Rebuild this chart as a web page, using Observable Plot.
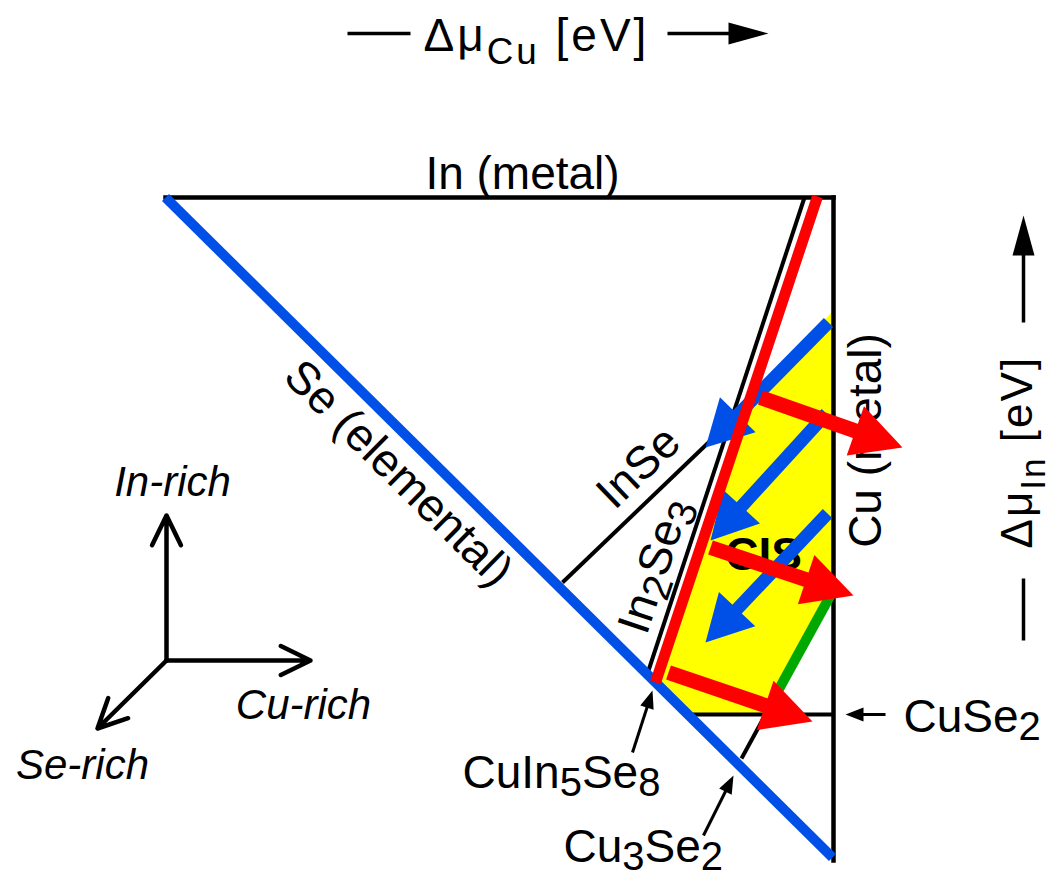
<!DOCTYPE html>
<html><head><meta charset="utf-8">
<script src="https://cdn.jsdelivr.net/npm/d3@7"></script>
<script src="https://cdn.jsdelivr.net/npm/@observablehq/plot@0.6"></script>
<style>body{margin:0;background:#fff} svg{display:block} text{white-space:pre}</style>
</head><body><div id="chart"></div>
<script>
// Chemical-potential plane (Δμ_Cu horizontal, Δμ_In vertical), schematic units
const xDomain = [-8.33, 2.26];
const yDomain = [-6.85, 1.97];

const frameLines = [ // In (metal) and Cu (metal) limits
  {phase: "In (metal)", x1: -6.68, y1: 0, x2: 0, y2: 0},
  {phase: "Cu (metal)", x1: 0, y1: 0, x2: 0, y2: -6.63}
];
const phaseLines = [
  {phase: "In2Se3", x1: -0.29, y1: 0, x2: -1.85, y2: -4.73},
  {phase: "InSe", x1: -2.71, y1: -3.85, x2: -1.01, y2: -2.22},
  {phase: "CuSe2", x1: -1.46, y1: -5.17, x2: 0, y2: -5.17},
  {phase: "Cu3Se2", x1: -0.92, y1: -5.61, x2: -0.68, y2: -5.17}
];
const seLine = [{phase: "Se (elemental)", x1: -6.68, y1: 0, x2: -0.01, y2: -6.60}];
const inRichEdge = [{x1: -0.16, y1: 0.01, x2: -1.78, y2: -4.85}];
const cuRichEdge = [{x1: -0.02, y1: -3.96, x2: -0.68, y2: -5.16}];
const cisRegion = [
  {x: 0, y: -1.13}, {x: -0.84, y: -2.03}, {x: -1.78, y: -4.83},
  {x: -1.45, y: -5.16}, {x: -0.68, y: -5.16}, {x: 0, y: -3.96}
];
const blueArrows = [
  {x1: -0.05, y1: -1.25, x2: -1.28, y2: -2.50},
  {x1: -0.07, y1: -2.16, x2: -1.23, y2: -3.43},
  {x1: -0.06, y1: -3.16, x2: -1.28, y2: -4.45}
];
const redArrows = [
  {x1: -0.73, y1: -2.00, x2: 0.69, y2: -2.50},
  {x1: -1.23, y1: -3.50, x2: 0.20, y2: -3.98},
  {x1: -1.65, y1: -4.75, x2: -0.21, y2: -5.24}
];
const pointerArrows = [
  {label: "CuIn5Se8", x1: -2.01, y1: -5.55, x2: -1.81, y2: -4.93},
  {label: "Cu3Se2", x1: -1.30, y1: -6.38, x2: -1.00, y2: -5.78},
  {label: "CuSe2", x1: 0.52, y1: -5.17, x2: 0.12, y2: -5.17}
];
const compassArrows = [
  {dir: "In-rich", x1: -6.67, y1: -4.63, x2: -6.67, y2: -3.18},
  {dir: "Cu-rich", x1: -6.67, y1: -4.63, x2: -5.23, y2: -4.63},
  {dir: "Se-rich", x1: -6.67, y1: -4.63, x2: -7.36, y2: -5.31}
];
const axisDashes = [
  {x1: -4.86, y1: 1.64, x2: -4.23, y2: 1.64},
  {x1: 1.90, y1: -4.43, x2: 1.90, y2: -3.81}
];
const axisArrows = [
  {x1: -1.66, y1: 1.64, x2: -0.65, y2: 1.64},
  {x1: 1.90, y1: -1.25, x2: 1.90, y2: -0.18}
];
const phaseLabels = [
  {text: "In (metal)", x: -3.11, y: 0.09, rotate: 0, anchor: "middle", line: "bottom"},
  {text: "Se (elemental)", x: -4.35, y: -2.76, rotate: 44.7, anchor: "middle", line: "middle"},
  {text: "InSe", x: -1.95, y: -2.70, rotate: -43.8, anchor: "middle", line: "middle"},
  {text: "In_2Se_3", x: -1.79, y: -3.68, rotate: -71.5, anchor: "middle", line: "middle"},
  {text: "Cu (metal)", x: 0.33, y: -2.43, rotate: -90, anchor: "middle", line: "middle"},
  {text: "CuIn_5Se_8", x: -3.71, y: -5.90, rotate: 0, anchor: "start", line: "bottom"},
  {text: "Cu_3Se_2", x: -2.70, y: -6.64, rotate: 0, anchor: "start", line: "bottom"},
  {text: "CuSe_2", x: 0.70, y: -5.34, rotate: 0, anchor: "start", line: "bottom"}
];
const compassLabels = [
  {text: "In-rich", x: -6.61, y: -2.98},
  {text: "Cu-rich", x: -5.30, y: -5.21},
  {text: "Se-rich", x: -7.51, y: -5.81}
];
const regionLabel = [{text: "CIS", x: -0.70, y: -3.58}];
const axisTitles = [
  {text: "Δμ_{Cu} [eV]", x: -4.10, y: 1.47, rotate: 0, size: 46, spacing: 3},
  {text: "Δμ_{In} [eV]", x: 1.98, y: -3.51, rotate: -90, size: 44, spacing: 2}
];

const W = 1059, H = 882;
const unitPerPx = (xDomain[1] - xDomain[0]) / W;

// filled-triangle arrows: shaft as link, head as closed polygon
function filledArrows(arr, headLen, halfWidth) {
  const L = headLen * unitPerPx, hw = halfWidth * unitPerPx;
  const shafts = [], heads = [];
  arr.forEach((a, i) => {
    const dx = a.x2 - a.x1, dy = a.y2 - a.y1, len = Math.hypot(dx, dy);
    const ux = dx / len, uy = dy / len, nx = -uy, ny = ux;
    const bx = a.x2 - ux * L, by = a.y2 - uy * L;
    shafts.push({x1: a.x1, y1: a.y1, x2: bx + ux * L * 0.3, y2: by + uy * L * 0.3});
    heads.push({id: i, x: a.x2, y: a.y2}, {id: i, x: bx + nx * hw, y: by + ny * hw}, {id: i, x: bx - nx * hw, y: by - ny * hw});
  });
  return {shafts, heads};
}
function arrowMarks(arr, color, headLen, halfWidth, sw) {
  const {shafts, heads} = filledArrows(arr, headLen, halfWidth);
  return [
    Plot.link(shafts, {x1: "x1", y1: "y1", x2: "x2", y2: "y2", stroke: color, strokeWidth: sw}),
    Plot.line(heads, {x: "x", y: "y", z: "id", fill: color, stroke: "none", curve: "linear-closed"})
  ];
}

const font = "'Liberation Sans', Arial, Helvetica, sans-serif";
const blue = "#0050e8", red = "#ff0000", green = "#00a800", yellow = "#ffff00";

const chart = Plot.plot({
  width: W, height: H, margin: 0,
  x: {domain: xDomain, axis: null},
  y: {domain: yDomain, axis: null},
  style: {fontFamily: font, background: "white", overflow: "visible"},
  marks: [
    Plot.line(cisRegion, {x: "x", y: "y", fill: yellow, stroke: "none", curve: "linear-closed"}),
    Plot.link(frameLines, {x1: "x1", y1: "y1", x2: "x2", y2: "y2", stroke: "black", strokeWidth: 4.5, strokeLinecap: "square"}),
    Plot.link(phaseLines, {x1: "x1", y1: "y1", x2: "x2", y2: "y2", stroke: "black", strokeWidth: 4}),
    ...phaseLabels.map(d => Plot.text([d], {x: "x", y: "y", text: "text", rotate: "rotate", textAnchor: d.anchor, lineAnchor: d.line, fontSize: 46, fill: "black"})),
    Plot.text(regionLabel, {x: "x", y: "y", text: "text", fontSize: 46, fontWeight: "bold", fill: "black", lineAnchor: "middle"}),
    Plot.link(cuRichEdge, {x1: "x1", y1: "y1", x2: "x2", y2: "y2", stroke: green, strokeWidth: 10}),
    Plot.link(seLine, {x1: "x1", y1: "y1", x2: "x2", y2: "y2", stroke: blue, strokeWidth: 10}),
    ...arrowMarks(blueArrows, blue, 46, 25, 13),
    Plot.link(inRichEdge, {x1: "x1", y1: "y1", x2: "x2", y2: "y2", stroke: red, strokeWidth: 11}),
    ...arrowMarks(redArrows, red, 50, 26, 15),
    ...arrowMarks(pointerArrows, "black", 18, 7, 3),
    ...arrowMarks(axisArrows, "black", 40, 11, 3.5),
    Plot.link(axisDashes, {x1: "x1", y1: "y1", x2: "x2", y2: "y2", stroke: "black", strokeWidth: 3.5}),
    Plot.arrow(compassArrows, {x1: "x1", y1: "y1", x2: "x2", y2: "y2", stroke: "black", strokeWidth: 4.5, headLength: 11, headAngle: 52}),
    Plot.text(compassLabels, {x: "x", y: "y", text: "text", fontSize: 42, fontStyle: "italic", fill: "black", lineAnchor: "bottom"}),
    ...axisTitles.map(d => Plot.text([d], {x: "x", y: "y", text: "text", rotate: "rotate", fontSize: d.size, fill: "black", textAnchor: "start", lineAnchor: "bottom"}))
  ]
});
document.getElementById("chart").appendChild(chart);

// render "_x" / "_{xy}" as subscripts
const subSpec = new Map(axisTitles.map(d => [d.text, {scale: 0.8, shift: 0.3, spacing: d.spacing}]));
d3.select(chart).selectAll("text").each(function () {
  const raw = this.textContent;
  if (!raw.includes("_")) return;
  const spec = subSpec.get(raw) || {scale: 0.87, shift: 0.19, spacing: 0};
  if (spec.spacing) this.setAttribute("letter-spacing", spec.spacing);
  const fs = parseFloat(getComputedStyle(this).fontSize) || 46;
  const parts = [];
  let last = 0;
  raw.replace(/_\{([^}]*)\}|_(\S)/g, (m, g1, g2, idx) => {
    if (idx > last) parts.push({t: raw.slice(last, idx), sub: false});
    parts.push({t: g1 ?? g2, sub: true});
    last = idx + m.length;
    return m;
  });
  if (last < raw.length) parts.push({t: raw.slice(last), sub: false});
  this.textContent = "";
  let prevSub = false;
  for (const p of parts) {
    const ts = document.createElementNS("http://www.w3.org/2000/svg", "tspan");
    ts.textContent = p.t;
    if (p.sub) {
      ts.setAttribute("font-size", fs * spec.scale);
      ts.setAttribute("dy", fs * spec.shift);
    } else if (prevSub) {
      ts.setAttribute("dy", -fs * spec.shift);
    }
    prevSub = p.sub;
    this.appendChild(ts);
  }
});
</script></body></html>
